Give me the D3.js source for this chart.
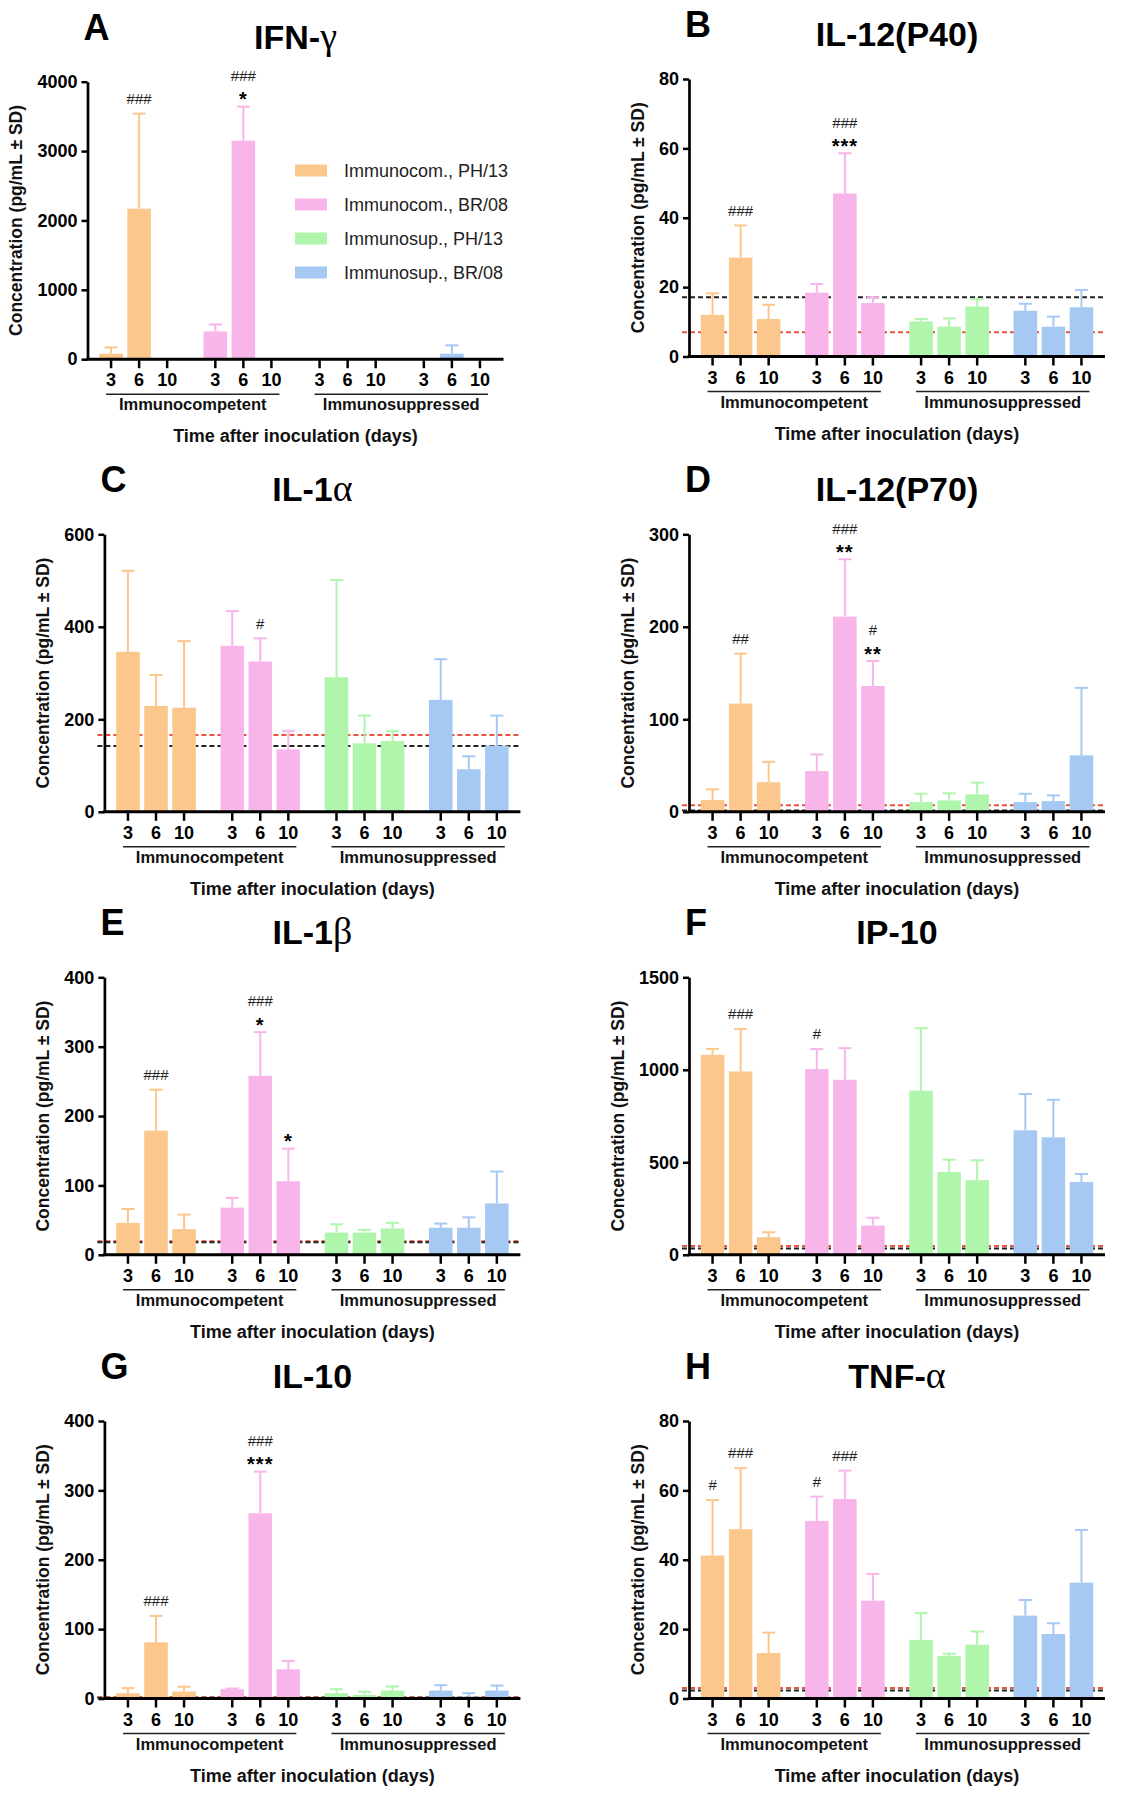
<!DOCTYPE html>
<html><head><meta charset="utf-8">
<script src="https://cdn.jsdelivr.net/npm/d3@7"></script>
<style>body{margin:0;background:#fff}</style>
</head><body><svg id="chart" width="1126" height="1800" style="background:#fff"></svg>
<script>
// ---------- DATA ----------
const days = ["3", "6", "10"];
const seriesNames = ["Immunocom., PH/13", "Immunocom., BR/08", "Immunosup., PH/13", "Immunosup., BR/08"];
const seriesColors = ["#FBC78D", "#F8B5EA", "#AFF5AC", "#A6C9F3"];
const groupLabels = ["Immunocompetent", "Immunosuppressed"];
const panelLetters = ["A", "B", "C", "D", "E", "F", "G", "H"];
const titleMain = ["IFN-", "IL-12(P40)", "IL-1", "IL-12(P70)", "IL-1", "IP-10", "IL-10", "TNF-"];
const titleGreek = ["γ", "", "α", "", "β", "", "", "α"];
const yAxisTitle = "Concentration (pg/mL ± SD)";
const xAxisTitle = "Time after inoculation (days)";

const yTicksA = [0, 1000, 2000, 3000, 4000];
const yTicksB = [0, 20, 40, 60, 80];
const yTicksC = [0, 200, 400, 600];
const yTicksD = [0, 100, 200, 300];
const yTicksE = [0, 100, 200, 300, 400];
const yTicksF = [0, 500, 1000, 1500];
const yTicksG = [0, 100, 200, 300, 400];
const yTicksH = [0, 20, 40, 60, 80];

// means [series][day], sd [series][day]
const meanA = [[80, 2170, 0], [400, 3150, 0], [0, 0, 0], [0, 80, 0]];
const sdA   = [[90, 1370, 0], [100, 490, 0], [0, 0, 0], [0, 120, 0]];
const meanB = [[12.0, 28.5, 10.8], [18.4, 47.0, 15.4], [10.1, 8.6, 14.4], [13.2, 8.6, 14.2]];
const sdB   = [[6.2, 9.3, 4.1], [2.5, 11.6, 1.7], [0.7, 2.4, 2.2], [2.0, 2.9, 5.0]];
const meanC = [[346, 229, 225], [359, 325, 135], [291, 148, 153], [242, 92, 143]];
const sdC   = [[175, 67, 144], [75, 50, 40], [210, 60, 22], [88, 28, 65]];
const meanD = [[12.7, 117, 32], [44, 211, 136], [10.5, 12.3, 18.8], [10.5, 11.6, 61]];
const sdD   = [[11.5, 54, 22], [18, 62, 27], [9, 7.7, 12.7], [9, 6.1, 73]];
const meanE = [[46, 179, 37], [68, 258, 106], [32, 32, 38], [39, 39, 74]];
const sdE   = [[20, 59, 21], [14, 63, 47], [12, 4, 8], [6, 15, 46]];
const meanF = [[1081, 991, 95], [1004, 946, 158], [887, 448, 403], [673, 635, 394]];
const sdF   = [[32, 230, 27], [108, 171, 42], [338, 66, 108], [196, 203, 43]];
const meanG = [[7.7, 81, 10], [13.4, 267, 42], [7.7, 5.3, 11.5], [11.5, 2.9, 11.5]];
const sdG   = [[7.3, 38, 7], [1, 60, 12], [5.7, 4.3, 5.8], [7.7, 4.8, 7.2]];
const meanH = [[41.2, 48.8, 13.1], [51.2, 57.5, 28.2], [16.9, 12.3, 15.5], [23.9, 18.6, 33.4]];
const sdH   = [[16, 17.6, 5.9], [7, 8.2, 7.7], [7.7, 0.6, 3.8], [4.5, 3.1, 15.2]];

// dashed reference levels [red, black] (null = none)
const refLevels = [null, [7.0, 17.1], [166, 142], [7, 1.5], [19.5, 18], [47, 34], [1.8, 1.0], [3.0, 2.3]];

// significance marks: [panel, series, day, lines top->bottom]
const marks = [
  [0, 0, 1, ["###"]], [0, 1, 1, ["###", "*"]],
  [1, 0, 1, ["###"]], [1, 1, 1, ["###", "***"]],
  [2, 1, 1, ["#"]],
  [3, 0, 1, ["##"]], [3, 1, 1, ["###", "**"]], [3, 1, 2, ["#", "**"]],
  [4, 0, 1, ["###"]], [4, 1, 1, ["###", "*"]], [4, 1, 2, ["*"]],
  [5, 0, 1, ["###"]], [5, 1, 0, ["#"]],
  [6, 0, 1, ["###"]], [6, 1, 1, ["###", "***"]],
  [7, 0, 0, ["#"]], [7, 0, 1, ["###"]], [7, 1, 0, ["#"]], [7, 1, 1, ["###"]]
];

const means = [meanA, meanB, meanC, meanD, meanE, meanF, meanG, meanH];
const sds = [sdA, sdB, sdC, sdD, sdE, sdF, sdG, sdH];
const yTicks = [yTicksA, yTicksB, yTicksC, yTicksD, yTicksE, yTicksF, yTicksG, yTicksH];

// ---------- LAYOUT ----------
const FONT = "'Liberation Sans', Arial, Helvetica, sans-serif";
const W = 416, H = 277.5;
const layout = [
  {x: 87.5, top: 81.7}, {x: 689, top: 79},
  {x: 104.4, top: 534.3}, {x: 689, top: 534.3},
  {x: 104.4, top: 977.3}, {x: 689, top: 977.3},
  {x: 104.4, top: 1421}, {x: 689, top: 1421}
];

const svg = d3.select("#chart");

means.forEach((mArr, i) => {
  const L = layout[i];
  const ticks = yTicks[i];
  const g = svg.append("g").attr("transform", `translate(${L.x},${L.top})`);
  const y = d3.scaleLinear().domain([0, d3.max(ticks)]).range([H, 0]);
  const xg = d3.scaleBand().domain(d3.range(4)).range([0, W]).paddingInner(0.15).paddingOuter(0.07);
  const xd = d3.scaleBand().domain(d3.range(3)).range([0, xg.bandwidth()]).padding(0.16);
  const cx = (s, d) => xg(s) + xd(d) + xd.bandwidth() / 2;

  // reference dashed lines (behind bars)
  if (refLevels[i]) {
    const cols = ["#E5533F", "#222"];
    refLevels[i].forEach((v, k) => {
      g.append("line").attr("x1", -7).attr("x2", W).attr("y1", y(v)).attr("y2", y(v))
        .attr("stroke", cols[k]).attr("stroke-width", 2).attr("stroke-dasharray", "5,3");
    });
  }

  const bars = [];
  mArr.forEach((row, s) => row.forEach((m, d) => bars.push({s, d, m, sd: sds[i][s][d]})));

  // bars
  g.selectAll("rect.bar").data(bars).join("rect").attr("class", "bar")
    .attr("x", b => xg(b.s) + xd(b.d)).attr("width", xd.bandwidth())
    .attr("y", b => y(b.m)).attr("height", b => H - y(b.m))
    .attr("fill", b => seriesColors[b.s]);

  // error bars (mean + SD)
  const eb = bars.filter(b => b.sd > 0);
  g.selectAll("line.err").data(eb).join("line").attr("class", "err")
    .attr("x1", b => cx(b.s, b.d)).attr("x2", b => cx(b.s, b.d))
    .attr("y1", b => y(b.m)).attr("y2", b => y(b.m + b.sd))
    .attr("stroke", b => seriesColors[b.s]).attr("stroke-width", 2);
  g.selectAll("line.cap").data(eb).join("line").attr("class", "cap")
    .attr("x1", b => cx(b.s, b.d) - 6.5).attr("x2", b => cx(b.s, b.d) + 6.5)
    .attr("y1", b => y(b.m + b.sd)).attr("y2", b => y(b.m + b.sd))
    .attr("stroke", b => seriesColors[b.s]).attr("stroke-width", 2);

  // y axis
  const ya = g.append("g").call(d3.axisLeft(y).tickValues(ticks).tickSize(6).tickSizeOuter(0).tickPadding(4).tickFormat(d3.format("d")));
  ya.select(".domain").attr("stroke", "#000").attr("stroke-width", 2.7);
  ya.selectAll(".tick line").attr("stroke", "#000").attr("stroke-width", 2.5);
  ya.selectAll(".tick text").attr("font-family", FONT).attr("font-size", 18).attr("font-weight", "bold").attr("fill", "#000");

  // x axis
  g.append("line").attr("x1", -1.3).attr("x2", W).attr("y1", H).attr("y2", H)
    .attr("stroke", "#000").attr("stroke-width", 3);
  const tickData = [];
  d3.range(4).forEach(s => d3.range(3).forEach(d => tickData.push({s, d})));
  g.selectAll("line.xt").data(tickData).join("line").attr("class", "xt")
    .attr("x1", t => cx(t.s, t.d)).attr("x2", t => cx(t.s, t.d))
    .attr("y1", H).attr("y2", H + 9).attr("stroke", "#000").attr("stroke-width", 2.5);
  g.selectAll("text.xl").data(tickData).join("text").attr("class", "xl")
    .attr("x", t => cx(t.s, t.d)).attr("y", H + 27).attr("text-anchor", "middle")
    .attr("font-family", FONT).attr("font-size", 18).attr("font-weight", "bold")
    .text(t => days[t.d]);

  // group underline + labels
  groupLabels.forEach((lab, k) => {
    const x1 = cx(2 * k, 0) - 5, x2 = cx(2 * k + 1, 2) + 8;
    g.append("line").attr("x1", x1).attr("x2", x2).attr("y1", H + 35).attr("y2", H + 35)
      .attr("stroke", "#222").attr("stroke-width", 1.6);
    g.append("text").attr("x", (x1 + x2) / 2).attr("y", H + 51).attr("text-anchor", "middle")
      .attr("font-family", FONT).attr("font-size", 16.5).attr("font-weight", "bold").attr("fill", "#111")
      .text(lab);
  });

  // x axis title
  g.append("text").attr("x", W / 2).attr("y", H + 83).attr("text-anchor", "middle")
    .attr("font-family", FONT).attr("font-size", 18).attr("font-weight", "bold").attr("fill", "#111")
    .text(xAxisTitle);

  // y axis title
  const bb = ya.node().getBBox();
  g.append("text").attr("transform", `translate(${bb.x - 21},${H / 2}) rotate(-90)`)
    .attr("text-anchor", "middle").attr("dominant-baseline", "central")
    .attr("font-family", FONT).attr("font-size", 17.5).attr("font-weight", "bold").attr("fill", "#111")
    .text(yAxisTitle);

  // panel title
  const t = g.append("text").attr("x", W / 2).attr("y", -33).attr("text-anchor", "middle")
    .attr("font-family", FONT).attr("font-size", 34).attr("font-weight", "bold").attr("fill", "#000");
  t.append("tspan").text(titleMain[i]);
  if (titleGreek[i]) t.append("tspan").attr("font-family", "'Liberation Serif', 'DejaVu Serif', serif")
    .attr("font-weight", "normal").attr("font-size", 38).text(titleGreek[i]);

  // panel letter
  g.append("text").attr("x", -4).attr("y", -42).attr("font-family", FONT).attr("font-size", 36)
    .attr("font-weight", "bold").attr("fill", "#000").text(panelLetters[i]);

  // significance marks
  marks.filter(mk => mk[0] === i).forEach(mk => {
    const [, s, d, lines] = mk;
    const b = bars.find(q => q.s === s && q.d === d);
    const top = y(b.m + b.sd);
    let center = top - (lines[lines.length - 1].startsWith("*") ? 12 : 15);
    lines.slice().reverse().forEach((ln, j) => {
      if (j > 0) center -= 19;
      const star = ln.startsWith("*");
      g.append("text").attr("x", cx(s, d)).attr("y", center + (star ? 11.5 : 5.3))
        .attr("text-anchor", "middle").attr("font-family", FONT)
        .attr("font-size", star ? 20 : 15).attr("font-weight", star ? "bold" : "normal")
        .attr("fill", star ? "#000" : "#222").attr("letter-spacing", star ? 1 : 0)
        .text(ln);
    });
  });

  // legend (panel A only)
  if (i === 0) {
    const lg = g.append("g").attr("transform", "translate(207.5,88.8)");
    seriesNames.forEach((nm, k) => {
      lg.append("rect").attr("x", 0).attr("y", k * 34 - 6).attr("width", 32).attr("height", 12)
        .attr("fill", seriesColors[k]);
      lg.append("text").attr("x", 49).attr("y", k * 34).attr("dominant-baseline", "central")
        .attr("font-family", FONT).attr("font-size", 18).attr("fill", "#222").text(nm);
    });
  }
});
</script>
</body></html>
